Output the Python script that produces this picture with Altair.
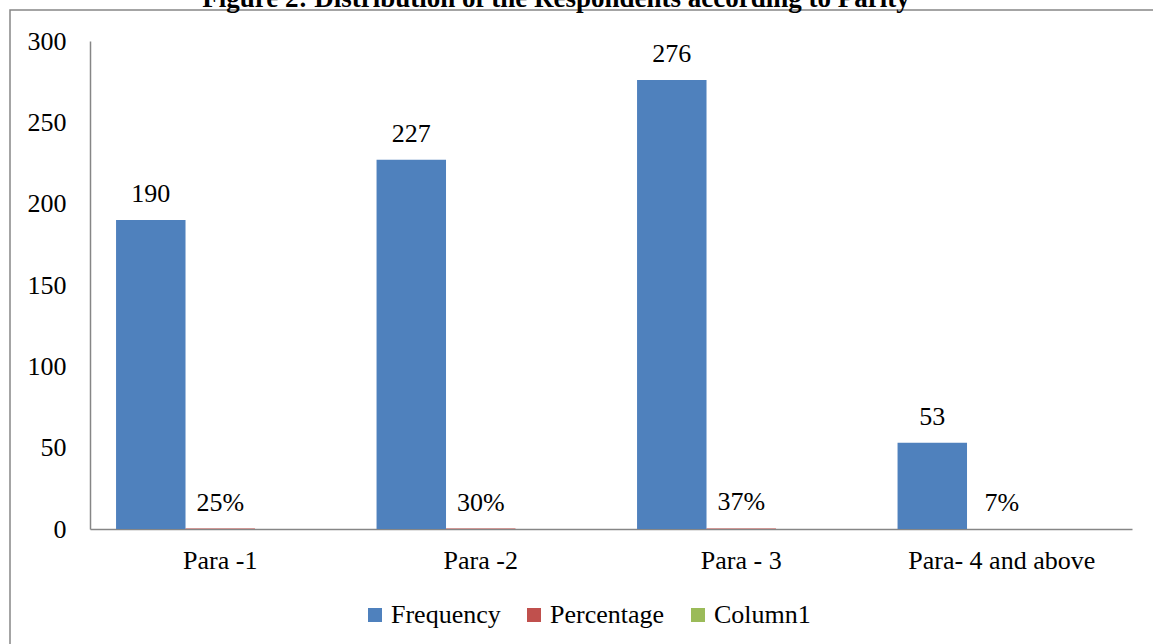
import altair as alt
import pandas as pd

# Parity groups and the three series of the column chart
categories = ["Para -1", "Para -2", "Para - 3", "Para- 4 and above"]
frequency = [190, 227, 276, 53]
percentage = [0.25, 0.30, 0.37, 0.07]
percentage_labels = ["25%", "30%", "37%", "7%"]
column1 = [None, None, None, None]

series = ["Frequency", "Percentage", "Column1"]
colors = ["#4F81BD", "#C0504D", "#9BBB59"]
title_text = ["Figure 2: Distribution of the Respondents according to Parity"]

rows = []
for i, cat in enumerate(categories):
    rows.append({"cat": cat, "series": "Frequency", "value": frequency[i], "label": str(frequency[i])})
    rows.append({"cat": cat, "series": "Percentage", "value": percentage[i], "label": percentage_labels[i]})
    rows.append({"cat": cat, "series": "Column1", "value": column1[i], "label": ""})
df = pd.DataFrame(rows)

FONT = "Liberation Serif"
FS = 26
GRAY = "#868686"

x_enc = alt.X(
    "cat:N",
    sort=categories,
    title=None,
    scale=alt.Scale(paddingInner=0.2, paddingOuter=0.1),
    axis=alt.Axis(
        labelAngle=0,
        ticks=False,
        labelPadding=18,
        labelLimit=0,
        labelFont=FONT,
        labelFontSize=FS,
        labelColor="black",
        domainColor=GRAY,
        domainWidth=1.5,
        grid=False,
    ),
)
xoff_enc = alt.XOffset("series:N", sort=series, scale=alt.Scale(domain=series))
y_scale = alt.Scale(domain=[0, 300], nice=False)

bars = alt.Chart(df).mark_bar().encode(
    x=x_enc,
    xOffset=xoff_enc,
    y=alt.Y(
        "value:Q",
        title=None,
        scale=y_scale,
        axis=alt.Axis(
            values=[0, 50, 100, 150, 200, 250, 300],
            ticks=False,
            labelPadding=24,
            labelFont=FONT,
            labelFontSize=FS,
            labelColor="black",
            domainColor=GRAY,
            domainWidth=1.5,
            grid=False,
        ),
    ),
    color=alt.Color(
        "series:N",
        scale=alt.Scale(domain=series, range=colors),
        legend=alt.Legend(
            title=None,
            orient="none",
            direction="horizontal",
            legendX=272,
            legendY=561,
            symbolType="square",
            symbolSize=196,
            symbolStrokeWidth=0,
            labelFont=FONT,
            labelFontSize=FS,
            labelColor="black",
            columnPadding=20,
            labelOffset=3,
        ),
    ),
)

labels = alt.Chart(df).mark_text(
    font=FONT, fontSize=FS, color="black", dy=-26
).encode(
    x=alt.X("cat:N", sort=categories),
    xOffset=xoff_enc,
    y=alt.Y("value:Q", scale=y_scale),
    text="label:N",
)

# Outer frame around the whole figure
frame = alt.Chart(pd.DataFrame({"a": [0]})).mark_rect(
    fill=None, stroke=GRAY, strokeWidth=1.5
).encode(
    x=alt.value(-80), x2=alt.value(1100), y=alt.value(-31), y2=alt.value(700)
)

# Figure caption, sitting at the very top edge of the figure
caption = alt.Chart(pd.DataFrame({"t": title_text})).mark_text(
    font=FONT, fontSize=27, fontWeight="bold", color="black",
    align="center", baseline="alphabetic",
).encode(
    x=alt.value(466), y=alt.value(-34), text="t:N"
)

chart = alt.layer(frame, bars, labels, caption).properties(
    width=1042,
    height=488,
    autosize=alt.AutoSizeParams(type="none"),
    padding={"left": 90, "top": 41, "right": 21, "bottom": 115},
).configure_view(stroke=None)

chart.save("out.html", embed_options={"renderer": "svg", "actions": False})
